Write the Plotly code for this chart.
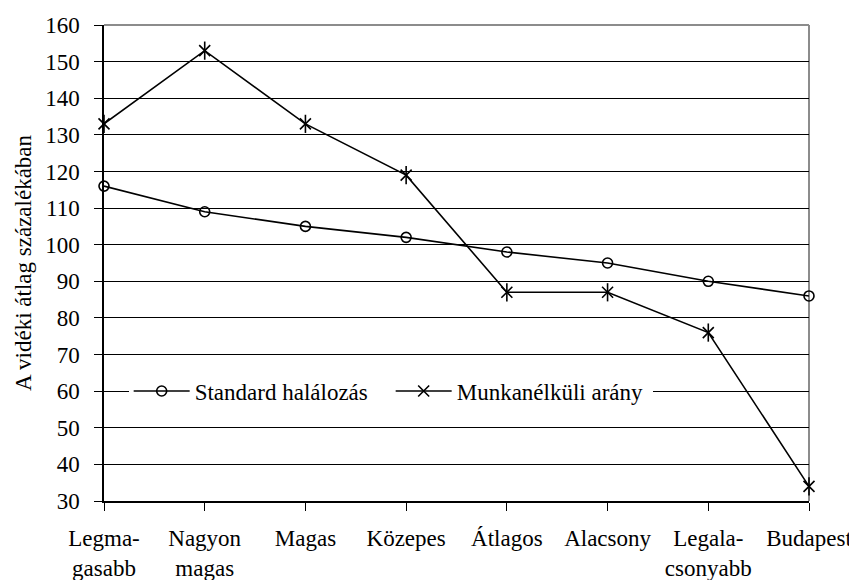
import plotly.graph_objects as go

categories = ["Legma-<br>gasabb", "Nagyon<br>magas", "Magas", "Közepes", "Átlagos",
              "Alacsony", "Legala-<br>csonyabb", "Budapest"]
standard_halalozas = [116, 109, 105, 102, 98, 95, 90, 86]
munkanelkuli_arany = [133, 153, 133, 119, 87, 87, 76, 34]
y_ticks = list(range(30, 161, 10))

xs = list(range(len(categories)))
FONT = dict(family="Liberation Serif, Times New Roman, serif", size=23, color="black")

fig = go.Figure()
fig.add_trace(go.Scatter(
    x=xs, y=standard_halalozas, mode="lines+markers", name="Standard halálozás",
    line=dict(color="black", width=1.6),
    marker=dict(symbol="circle-open", size=10, color="black", line=dict(width=1.6)),
    cliponaxis=False,
))
fig.add_trace(go.Scatter(
    x=xs, y=munkanelkuli_arany, mode="lines+markers", name="Munkanélküli arány",
    line=dict(color="black", width=1.6),
    marker=dict(symbol="x-thin-open", size=11, color="black", line=dict(width=1.6, color="black")),
    cliponaxis=False,
))
fig.add_trace(go.Scatter(
    x=xs, y=munkanelkuli_arany, mode="markers", showlegend=False,
    marker=dict(symbol="line-ns-open", size=13, color="black", line=dict(width=1.6, color="black")),
    cliponaxis=False, hoverinfo="skip",
))

fig.update_layout(
    width=849, height=572,
    margin=dict(l=96, r=48, t=17, b=79, autoexpand=False),
    paper_bgcolor="white", plot_bgcolor="white",
    font=FONT,
    showlegend=True,
    legend=dict(
        orientation="h", x=0.035, xanchor="left", y=0.231, yanchor="middle",
        bgcolor="white", borderwidth=0, font=FONT, itemwidth=56,
        entrywidth=191, entrywidthmode="pixels",
    ),
    xaxis=dict(
        range=[0, 7], tickmode="array", tickvals=xs, ticktext=categories,
        showgrid=False, zeroline=False, showline=True, linecolor="black", linewidth=1.5,
        ticks="outside", ticklen=8, tickcolor="black", tickwidth=1,
        ticklabelstandoff=8, tickfont=FONT, automargin=False,
    ),
    yaxis=dict(
        range=[30, 160], tickmode="array", tickvals=y_ticks,
        showgrid=True, gridcolor="black", gridwidth=1, zeroline=False,
        showline=True, linecolor="black", linewidth=1.5,
        ticks="outside", ticklen=8, tickcolor="black", tickwidth=1,
        ticklabelstandoff=10, tickfont=FONT, automargin=False,
    ),
    shapes=[
        dict(type="line", xref="paper", yref="paper", x0=0, x1=1, y0=1, y1=1,
             line=dict(color="#8c8c8c", width=2), layer="between"),
        dict(type="line", xref="paper", yref="paper", x0=1, x1=1, y0=0, y1=1,
             line=dict(color="#8c8c8c", width=2), layer="between"),
    ],
    annotations=[
        dict(text="A vidéki átlag százalékában", xref="paper", yref="paper",
             x=0, y=0.5, xshift=-81, textangle=-90, showarrow=False,
             xanchor="center", yanchor="middle", font=FONT),
    ],
)

fig.write_html("out.html")
